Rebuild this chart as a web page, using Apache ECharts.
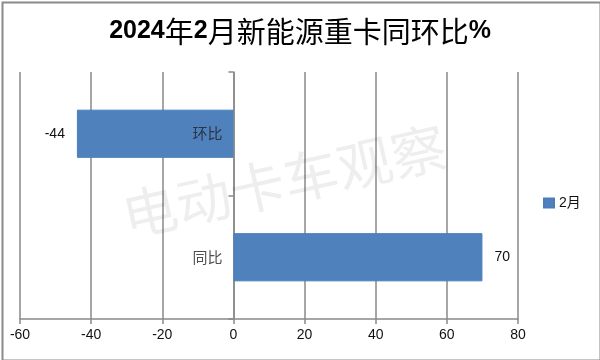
<!DOCTYPE html>
<html><head><meta charset="utf-8">
<script src="https://cdn.jsdelivr.net/npm/echarts@6/dist/echarts.min.js"></script>
<style>html,body{margin:0;padding:0;background:#fff}#c{width:600px;height:360px}</style>
</head><body><div id="c"></div>
<script>
const categories = ['环比', '同比'];
const seriesName = '2月';
const values = [-44, 70];
const xMin = -60, xMax = 80, xStep = 20;
const watermark = '电动卡车观察';

const chart = echarts.init(document.getElementById('c'));
const cjk = '"Noto Sans CJK SC", sans-serif';
const num = '"Liberation Sans", "Noto Sans CJK SC", sans-serif';
chart.setOption({
  animation: false,
  backgroundColor: '#fff',
  title: {
    text: '{b|2024}{c|年}{b|2}{c|月新能源重卡同环比}{b|%}', left: 'center', top: 12,
    textStyle: {
      rich: {
        b: { fontFamily: num, fontSize: 25, fontWeight: 'bold', color: '#000' },
        c: { fontFamily: cjk, fontSize: 29, fontWeight: 'normal', color: '#000' }
      }
    }
  },
  legend: {
    data: [seriesName], orient: 'vertical', left: 538, top: 191,
    itemWidth: 10, itemHeight: 9, icon: 'rect', itemGap: 6,
    textStyle: { fontFamily: num, fontSize: 14, color: '#111' }
  },
  grid: { left: 20, right: 82, top: 72, bottom: 41, containLabel: false, outerBoundsMode: 'none' },
  xAxis: {
    type: 'value', min: xMin, max: xMax, interval: xStep,
    axisLine: { show: true, lineStyle: { color: '#898989', width: 1.5 } },
    axisTick: { show: true, length: 5, lineStyle: { color: '#898989', width: 1.5 } },
    splitLine: { show: true, lineStyle: { color: '#898989', width: 1.5 } },
    axisLabel: { fontFamily: num, fontSize: 14, color: '#111', margin: 9 }
  },
  yAxis: {
    type: 'category', data: categories, inverse: true,
    axisLine: { show: true, onZero: true, lineStyle: { color: '#898989', width: 1.5 } },
    axisTick: { show: true, length: 5, lineStyle: { color: '#898989', width: 1.5 } },
    axisLabel: { show: false }
  },
  series: [{
    name: seriesName, type: 'bar', data: values.map(v => ({
      value: v, label: { position: v < 0 ? 'left' : 'right' }
    })), barWidth: '39%',
    itemStyle: { color: '#4F81BD', borderColor: '#4A7EBB', borderWidth: 1 },
    label: {
      show: true, fontFamily: num, fontSize: 14, color: '#111', distance: 12,
      formatter: p => String(p.value)
    }
  }, {
    name: 'cat-labels', type: 'scatter', symbolSize: 0, silent: true, z: 5,
    data: categories.map(c => [0, c]),
    label: {
      show: true, position: 'left', distance: 11,
      fontFamily: cjk, fontSize: 15, color: '#222',
      formatter: p => p.value[1]
    }
  }],
  graphic: [
    {
      type: 'rect', left: 0, top: 0, z: 100, silent: true,
      shape: { x: 1, y: 1, width: 598, height: 358 },
      style: { fill: 'none', stroke: '#8a8a8a', lineWidth: 2 }
    },
    {
      type: 'text', x: 284, y: 181, rotation: 0.22, z: 50, silent: true,
      style: {
        text: watermark, fontFamily: cjk, fontSize: 55,
        fill: 'rgba(0,0,0,0.065)', align: 'center', verticalAlign: 'middle'
      }
    }
  ]
});
</script></body></html>
